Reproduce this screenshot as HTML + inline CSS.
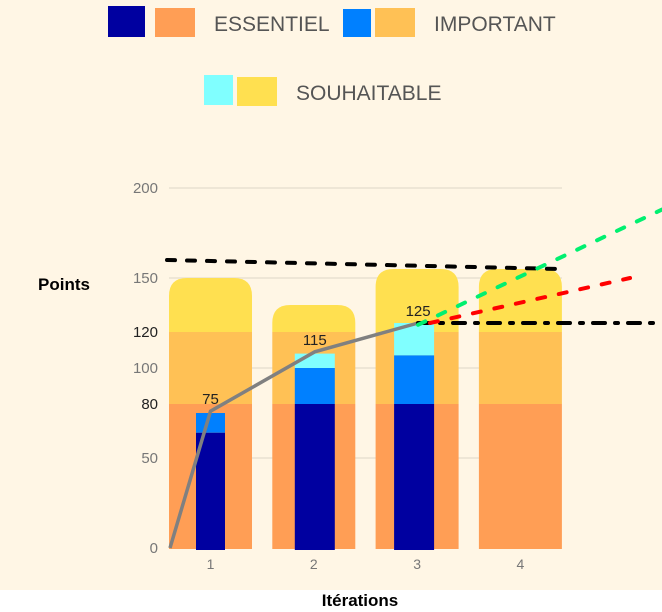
<!DOCTYPE html>
<html><head><meta charset="utf-8"><style>
body{margin:0;width:662px;height:612px;background:#fff;overflow:hidden}
svg{display:block}
text{font-family:"Liberation Sans",sans-serif}
</style></head><body>
<svg width="662" height="612">
<rect x="0" y="0" width="662" height="590" fill="#FFF6E5"/>
<g id="legend">
 <g>
  <rect x="108" y="6" width="37" height="31" fill="#0000A0"/><rect x="155" y="8" width="40" height="29" fill="#FF9E55"/>
  <text x="214" y="31" font-size="21" fill="#555">ESSENTIEL</text></g>
 <g>
  <rect x="343" y="9" width="28" height="28" fill="#0080FF"/><rect x="375" y="8" width="40" height="29" fill="#FFC155"/>
  <text x="434" y="31" font-size="21" fill="#555">IMPORTANT</text></g>
 <g>
  <rect x="204" y="75" width="29" height="30" fill="#80FFFF"/><rect x="237" y="77" width="40" height="29" fill="#FFE050"/>
  <text x="296" y="100" font-size="21" fill="#555">SOUHAITABLE</text></g>
</g>
<g id="grid"></g>
<g id="bars"></g>
<g id="lines"></g>
<text x="38" y="290" font-size="17" font-weight="bold" fill="#000">Points</text>
<text x="360" y="606" font-size="17" font-weight="bold" fill="#000" text-anchor="middle">Itérations</text>
</svg>
<script>
const categories=["1","2","3","4"];
const plannedEss=[80,80,80,80];
const plannedImp=[40,40,40,40];
const plannedSou=[30,15,35,35];
const doneEss=[64,80,80,null];
const doneImp=[11,20,27,null];
const doneSou=[0,8,18,null];
const cumul=[0,76,109,125];
const cumulLabels=["","75","115","125"];
const yTicks=[0,50,80,100,120,150,200];
const gridTicks=[50,100,150,200];
const NS="http://www.w3.org/2000/svg";
const y0=548,k=1.8;
const y=v=>y0-v*k;
const cx=i=>210.5+i*103.3;
const bw=83,iw=[29,40,40,40];
function mk(tag,attrs,parent){const e=document.createElementNS(NS,tag);for(const a in attrs)e.setAttribute(a,attrs[a]);parent.appendChild(e);return e;}
const grid=document.getElementById('grid'),bars=document.getElementById('bars'),lines=document.getElementById('lines');
gridTicks.forEach(t=>{const l=mk('line',{x1:169,x2:562,y1:y(t),y2:y(t),stroke:'#EEE6D6','stroke-width':2},grid);

});
yTicks.forEach(t=>{const tx=mk('text',{x:158,y:y(t)+5,'font-size':15,fill:t==80||t==120?'#222':'#777','text-anchor':'end'},grid);tx.textContent=t;

});
categories.forEach((c,i)=>{const tx=mk('text',{x:cx(i),y:569,'font-size':14,fill:'#777','text-anchor':'middle'},grid);tx.textContent=c;

});
function rrTop(x,yt,w,h,r){return `M${x},${yt+h}V${yt+r}Q${x},${yt} ${x+r},${yt}H${x+w-r}Q${x+w},${yt} ${x+w},${yt+r}V${yt+h}Z`;}
categories.forEach((c,i)=>{
 const x=cx(i)-bw/2;
 const a=plannedEss[i],b=a+plannedImp[i],s=b+plannedSou[i];
 const p=mk('path',{d:rrTop(x,y(s),bw,y(b)-y(s),18),fill:'#FFE050'},bars);
 
 
 const r1=mk('rect',{x:x,y:y(b),width:bw,height:y(a)-y(b),fill:'#FFC155'},bars);
 
 
 const r2=mk('rect',{x:x,y:y(a),width:bw,height:y0-y(a)+1,fill:'#FF9E55'},bars);
 
 
 if(doneEss[i]!==null){
  const w=iw[i],ix=cx(i)-w/2-(i==0?0:(i==1?-1:3));
  const e=doneEss[i],m=e+doneImp[i],t=m+doneSou[i];
  if(doneSou[i]>0){const q=mk('rect',{x:ix,y:y(t),width:w,height:y(m)-y(t),fill:'#80FFFF'},bars);
   
   }
  const q2=mk('rect',{x:ix,y:y(m),width:w,height:y(e)-y(m),fill:'#0080FF'},bars);
  
  
  const q3=mk('rect',{x:ix,y:y(e),width:w,height:y0-y(e)+2,fill:'#0000A0'},bars);
  
  
 }
});
const px=i=>i==0?170:cx(i-1)+(i==1?0:1);
const pl=mk('polyline',{points:cumul.map((v,i)=>px(i)+','+y(v)).join(' '),fill:'none',stroke:'#808080','stroke-width':3.5},lines);


cumul.forEach((v,i)=>{if(!cumulLabels[i])return;const tx=mk('text',{x:px(i),y:y(v)-7,'font-size':15,fill:'#222','text-anchor':'middle'},lines);tx.textContent=cumulLabels[i];

});
const projScope=[[167,160],[560,155]];
const projMin=[[418,125],[662,125]];
const projRed=[[430,125],[630,150]];
const projGreen=[[418,124],[662,188]];
function proj(pts,color,dash,name){const l=mk('line',{x1:pts[0][0],y1:y(pts[0][1]),x2:pts[1][0],y2:y(pts[1][1]),stroke:color,'stroke-width':4,'stroke-dasharray':dash,'stroke-linecap':'round'},lines);

}
proj(projScope,'#000','8 12','scope-projection');
proj(projMin,'#000','12 10 3 10','minimum-projection');
proj(projRed,'#FF0000','8 14','average-velocity-projection');
proj(projGreen,'#00F070','8 14','best-velocity-projection');
</script>
</body></html>
